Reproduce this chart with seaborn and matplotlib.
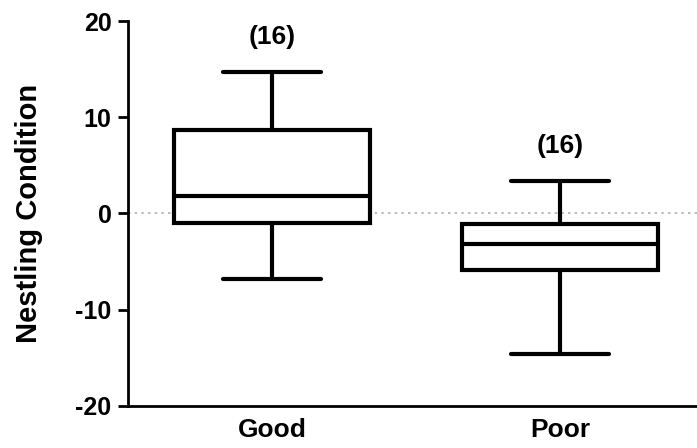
import numpy as np
import pandas as pd
import matplotlib
matplotlib.use("Agg")
import matplotlib.pyplot as plt
import seaborn as sns

# nestling condition per group (16 nests each)
groups = ["Good", "Poor"]
good_values = [-6.8, -4.2, -2.5, -1.1, -0.9, 0.3, 1.0, 1.5,
               2.1, 4.0, 6.2, 8.5, 9.1, 11.0, 12.6, 14.7]
poor_values = [-14.6, -10.2, -7.5, -6.0, -5.8, -4.9, -4.0, -3.4,
               -2.9, -2.4, -1.7, -1.2, -0.8, 0.2, 1.8, 3.4]
y_ticks = [-20, -10, 0, 10, 20]

df = pd.DataFrame({
    "Quality": ["Good"] * len(good_values) + ["Poor"] * len(poor_values),
    "Condition": good_values + poor_values,
})

sns.set_style("ticks")
plt.rcParams["font.family"] = ["Liberation Sans", "DejaVu Sans"]
plt.rcParams["font.weight"] = "bold"
plt.rcParams["axes.unicode_minus"] = False
plt.rcParams["text.color"] = "black"
plt.rcParams["axes.labelcolor"] = "black"
plt.rcParams["xtick.color"] = "black"
plt.rcParams["ytick.color"] = "black"
plt.rcParams["axes.edgecolor"] = "black"

fig = plt.figure(figsize=(6.97, 4.48), dpi=100)
ax = fig.add_axes([0.184, 0.094, 0.816, 0.859])

# zero reference line behind the boxes
ax.axhline(0, color="#b0b0b0", linestyle=(0, (1.5, 2.5)), linewidth=1.2, zorder=0)

sns.boxplot(data=df, x="Quality", y="Condition", order=groups, color="white",
            linecolor="black", linewidth=3, width=0.68, whis=(0, 100),
            ax=ax, zorder=2)

# sample sizes above each box
for i, g in enumerate(groups):
    vals = df.loc[df["Quality"] == g, "Condition"]
    ax.text(i, vals.max() + 3.6, f"({len(vals)})", ha="center", va="center",
            fontsize=19, fontweight="bold")

ax.set_xlim(-0.5, 1.476)
ax.set_ylim(-20, 20)
ax.set_yticks(y_ticks)
ax.set_xlabel("")
ax.set_ylabel("Nestling Condition", fontsize=21, fontweight="bold")
ax.yaxis.set_label_coords(-0.15, 0.5)

sns.despine(ax=ax)
for side in ["left", "bottom"]:
    ax.spines[side].set_linewidth(2)
ax.tick_params(axis="y", length=7, width=2, pad=5, labelsize=18)
ax.tick_params(axis="x", length=0, pad=9, labelsize=19)
for lab in ax.get_xticklabels() + ax.get_yticklabels():
    lab.set_fontweight("bold")

fig.savefig("out.png", dpi=100)
